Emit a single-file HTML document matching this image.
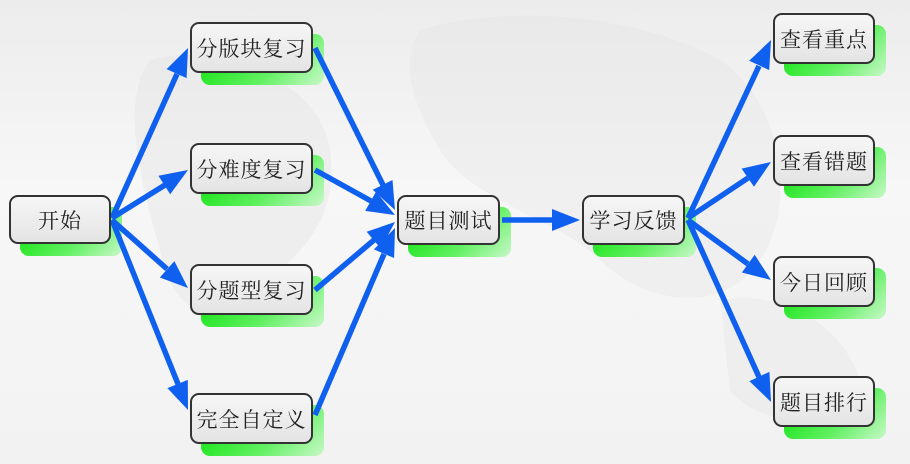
<!DOCTYPE html>
<html><head><meta charset="utf-8"><style>
html,body{margin:0;padding:0}
body{width:910px;height:464px;overflow:hidden;background:linear-gradient(180deg,#ececec 0%,#f7f7f7 40%,#f2f2f2 100%);position:relative;font-family:"Liberation Serif","Noto Serif CJK SC",serif}
.b{position:absolute;box-sizing:border-box;border:2px solid #333;border-radius:9px;background:linear-gradient(180deg,#f6f6f6,#e4e4e4);font-size:21px;color:#222;display:flex;align-items:center;justify-content:center;letter-spacing:1px}
.s{position:absolute;border-radius:9px;background:linear-gradient(135deg,#00e000,#60f060 60%,#c8f8c8)}
svg{position:absolute;left:0;top:0}
</style></head><body>
<svg width="910" height="464" style="opacity:.35">
<path d="M150 60 C220 40 320 80 330 150 C340 220 300 260 240 300 C200 330 170 300 160 250 C140 180 120 100 150 60Z" fill="#e2e2e2"/>
<path d="M420 30 C520 0 650 20 720 60 C780 100 800 200 760 260 C720 320 640 300 600 260 C560 220 470 200 440 150 C410 100 400 60 420 30Z" fill="#e4e4e4"/>
<path d="M720 300 C780 290 840 320 860 380 C840 430 760 430 730 390Z" fill="#e4e4e4"/>
</svg>
<div class="s" style="left:20px;top:207px;width:102px;height:49px"></div>
<div class="s" style="left:201px;top:34px;width:123px;height:51px"></div>
<div class="s" style="left:201px;top:155px;width:123px;height:51px"></div>
<div class="s" style="left:201px;top:276px;width:123px;height:51px"></div>
<div class="s" style="left:201px;top:405px;width:123px;height:51px"></div>
<div class="s" style="left:408px;top:207px;width:103px;height:50px"></div>
<div class="s" style="left:593px;top:207px;width:103px;height:50px"></div>
<div class="s" style="left:784px;top:25px;width:102px;height:51px"></div>
<div class="s" style="left:784px;top:147px;width:102px;height:51px"></div>
<div class="s" style="left:784px;top:268px;width:102px;height:51px"></div>
<div class="s" style="left:784px;top:388px;width:102px;height:51px"></div>
<svg width="910" height="464">
<g stroke="#1060f0" stroke-width="5.5" fill="none">
<line x1="112" y1="218" x2="177" y2="74"/>
<line x1="112" y1="218" x2="165" y2="185"/>
<line x1="112" y1="220" x2="167" y2="269"/>
<line x1="112" y1="220" x2="178" y2="384"/>
<line x1="315" y1="48" x2="383" y2="185"/>
<line x1="315" y1="170" x2="371" y2="201"/>
<line x1="315" y1="290" x2="374" y2="240"/>
<line x1="315" y1="415" x2="384" y2="254"/>
<line x1="502" y1="220" x2="553" y2="220"/>
<line x1="688" y1="218" x2="759" y2="66"/>
<line x1="688" y1="218" x2="748" y2="178"/>
<line x1="688" y1="220" x2="748" y2="264"/>
<line x1="688" y1="220" x2="759" y2="377"/>
</g>
<g fill="#1060f0">
<polygon points="188,48 186.6,78.1 166.6,69.1"/>
<polygon points="188,170 170.2,194.3 158.4,175.7"/>
<polygon points="188,288 159.8,277.5 174.4,261.1"/>
<polygon points="188,410 167.4,388.1 187.8,379.9"/>
<polygon points="395,210 372.7,189.8 392.5,180"/>
<polygon points="395,215 365.2,210.9 376,191.7"/>
<polygon points="395,222 380.8,248.5 366.6,231.7"/>
<polygon points="395,228 394.1,258 373.9,249.4"/>
<polygon points="580,220 552,231 552,209"/>
<polygon points="771,40 769.2,70.1 749.2,60.7"/>
<polygon points="771,162 754,186.8 741.6,168.6"/>
<polygon points="771,280 741.9,272.5 754.7,254.7"/>
<polygon points="771,402 749.4,381.1 769.4,371.9"/>
</g></svg>
<div class="b" style="left:9px;top:195px;width:102px;height:49px">开始</div>
<div class="b" style="left:190px;top:22px;width:123px;height:51px">分版块复习</div>
<div class="b" style="left:190px;top:143px;width:123px;height:51px">分难度复习</div>
<div class="b" style="left:190px;top:264px;width:123px;height:51px">分题型复习</div>
<div class="b" style="left:190px;top:393px;width:123px;height:51px">完全自定义</div>
<div class="b" style="left:397px;top:195px;width:103px;height:50px">题目测试</div>
<div class="b" style="left:582px;top:195px;width:103px;height:50px">学习反馈</div>
<div class="b" style="left:773px;top:13px;width:102px;height:51px">查看重点</div>
<div class="b" style="left:773px;top:135px;width:102px;height:51px">查看错题</div>
<div class="b" style="left:773px;top:256px;width:102px;height:51px">今日回顾</div>
<div class="b" style="left:773px;top:376px;width:102px;height:51px">题目排行</div>
</body></html>
